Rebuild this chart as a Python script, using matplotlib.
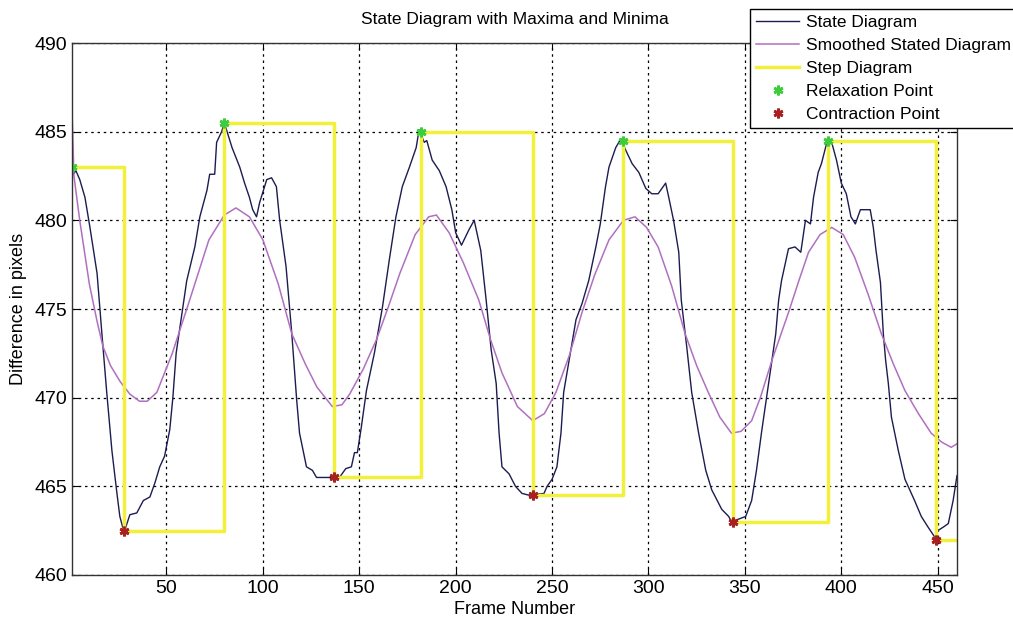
import matplotlib
matplotlib.use('Agg')
import matplotlib.pyplot as plt

plt.rcParams['font.family'] = ['Liberation Sans', 'DejaVu Sans']

# raw state diagram (frame, difference)
state_x = [1, 3, 5, 7.7, 10.3, 14, 16.5, 19, 21.7, 24.3, 25.8, 28, 31, 34.6, 38, 41.4, 44, 46.5, 49,
           51.7, 53.3, 55, 57, 60.5, 64.7, 67.3, 71, 72.4, 75, 76, 78.6, 80, 84, 88, 90.5, 93, 94.7,
           96.7, 98.3, 102, 104.5, 107, 108.7, 112, 115, 117.5, 119, 122.6, 125.7, 127.8, 136, 139.7,
           143, 145.9, 147.5, 149, 151, 153.7, 157.8, 162, 165.6, 169, 172.3, 176, 179.5, 181, 183.7,
           185, 187.8, 191.5, 195, 198, 200, 203, 207, 209.6, 213, 215.8, 218.4, 221, 222.5, 224,
           227.7, 231, 234.4, 238, 245.8, 247.4, 250, 252.5, 254.6, 256, 258.8, 262.4, 265.5, 269,
           272.7, 275, 277.7, 279.5, 283, 285.7, 288, 291.5, 295, 298.6, 301.7, 305, 308.9, 310.5,
           313, 315.7, 317, 319.8, 322.4, 326, 329.7, 332.8, 338, 341.6, 343, 350.4, 353.5, 356,
           358.7, 362.3, 366, 367.5, 369, 372.6, 376, 379, 381.4, 384, 385.6, 388, 389.7, 391.8,
           393, 395, 397.5, 400, 402.6, 405, 407.3, 409.9, 415, 416.6, 418, 420.3, 421.8, 423,
           424.4, 426, 429.6, 433, 436.3, 438, 441.5, 445, 448.7, 450, 452.9, 455.5, 458, 460]
state_y = [482.5, 482.8, 482.3, 481.3, 479.6, 477, 473.6, 470.3, 467, 464.6, 463.3, 462.4, 463.4, 463.5,
           464.2, 464.4, 465.2, 466.1, 466.7, 468.2, 470, 472.5, 474, 476.6, 478.5, 480.2, 481.7,
           482.6, 482.6, 484.4, 485, 485.5, 484.1, 483.0, 482.1, 481.3, 480.6, 480.2, 481, 482.3,
           482.4, 481.9, 480, 477.4, 473.6, 469.9, 468, 466.1, 465.9, 465.5, 465.5, 465.5, 466,
           466.1, 466.9, 466.9, 468.3, 470.4, 472.5, 475.1, 477.8, 480.2, 481.9, 483, 484.1, 485.1,
           484.4, 484.5, 483.4, 482.8, 481.9, 480.6, 479.3, 478.6, 479.5, 480, 478.3, 475.5, 472.7,
           470.8, 468, 466.1, 465.7, 465, 464.6, 464.5, 464.6, 465, 465.4, 466.1, 468, 470.3, 472.1,
           474.4, 475.3, 476.6, 478.5, 479.8, 481.9, 483, 484.1, 484.6, 484, 483.2, 482.7, 481.8,
           481.5, 481.5, 482.1, 481.3, 480, 478.2, 475.5, 472.9, 470.3, 468, 465.9, 464.8, 463.7,
           463.3, 463, 463.3, 464.2, 465.9, 468.1, 470.8, 473.6, 475.5, 476.6, 478.4, 478.5, 478.2,
           480, 479.8, 481.3, 482.7, 483.2, 484.1, 484.6, 484.4, 483.4, 482.1, 481.5, 480.2, 479.8,
           480.6, 480.6, 479.6, 478.3, 476.5, 473.6, 472.1, 470.8, 468.9, 467, 465.4, 464.6, 464.2,
           463.3, 462.7, 462.1, 462.5, 462.7, 462.9, 464.2, 465.6]

# smoothed curve
smooth_x = [1, 2, 5, 10, 14, 17, 21, 26, 31, 36, 40, 45, 53, 62, 72, 80, 86, 93, 100, 108, 115, 122,
            128, 136, 141, 145, 152, 159, 165, 171, 179, 186, 190, 196.6, 204, 212, 218, 224, 232,
            240, 246, 252, 259, 265.5, 272, 279.5, 287, 293, 299, 305, 312, 319, 325, 331, 337, 343,
            348, 353.5, 358, 364, 372.6, 378, 383, 389, 395, 401, 407, 414, 420.8, 427, 433, 440,
            446.6, 452, 457, 460]
smooth_y = [486.2, 482.5, 480.0, 476.4, 474.3, 472.9, 471.8, 470.9, 470.2, 469.8, 469.8, 470.3,
            472.5, 475.5, 478.9, 480.3, 480.7, 480.2, 478.9, 476.4, 473.6, 471.9, 470.6, 469.5,
            469.6, 470.2, 471.6, 473.3, 475.1, 477.0, 479.2, 480.2, 480.3, 479.3, 477.6, 475.5,
            473.3, 471.4, 469.5, 468.7, 469.1, 470.3, 472.4, 474.8, 476.9, 478.9, 480.0, 480.2,
            479.6, 478.5, 476.3, 473.6, 471.8, 470.3, 468.9, 468.0, 468.1, 468.7, 470.0, 472.1,
            474.8, 476.6, 478.2, 479.2, 479.6, 479.2, 477.9, 475.8, 473.6, 471.9, 470.4, 469.1,
            468.0, 467.5, 467.2, 467.4]

# step diagram
step_x = [1, 28, 80, 137, 182, 240, 287, 344, 393, 449, 460]
step_y = [483, 462.5, 485.5, 465.5, 485, 464.5, 484.5, 463, 484.5, 462, 462]

# maxima / minima
relax_x = [1, 80, 182, 287, 393]
relax_y = [483, 485.5, 485, 484.5, 484.5]
contr_x = [28, 137, 240, 344, 449]
contr_y = [462.5, 465.5, 464.5, 463, 462]

fig = plt.figure(figsize=(10.13, 6.19), dpi=100)
ax = fig.add_axes([0.0711, 0.0711, 0.8736, 0.8594])

ax.plot(state_x, state_y, color='#1c1c50', lw=1.0, label='State Diagram')
ax.plot(smooth_x, smooth_y, color='#b070c0', lw=1.1, label='Smoothed Stated Diagram')
ax.plot(step_x, step_y, color='#f2f03a', lw=2.5, drawstyle='steps-post', label='Step Diagram')
ax.plot(relax_x, relax_y, linestyle='None', marker=(6, 2, 0), ms=7, mew=2,
        color='#3ccc3c', label='Relaxation Point')
ax.plot(contr_x, contr_y, linestyle='None', marker=(6, 2, 0), ms=7, mew=2,
        color='#a82020', label='Contraction Point')

ax.set_xlim(1, 460)
ax.set_ylim(460, 490)
ax.set_xticks(range(50, 451, 50))
ax.set_yticks(range(460, 491, 5))
ax.grid(True, color='black', linestyle=(0, (2, 3)), lw=0.9)
ax.tick_params(direction='in', top=True, right=True, labelsize=14, length=5)
for s in ax.spines.values():
    s.set_color('#333333')
    s.set_linewidth(1.0)

ax.set_title('State Diagram with Maxima and Minima', fontsize=12.5, pad=14)
ax.set_xlabel('Frame Number', fontsize=13, labelpad=3)
ax.set_ylabel('Difference in pixels', fontsize=13, labelpad=5)

leg = ax.legend(loc='upper left', bbox_to_anchor=(750 / 1013, 1 - 9 / 619),
                bbox_transform=fig.transFigure, fontsize=12.5, frameon=True,
                fancybox=False, framealpha=1, edgecolor='black', borderaxespad=0,
                labelspacing=0.45, handlelength=2.5, handletextpad=0.4, borderpad=0.35)
leg.get_frame().set_linewidth(1.0)

plt.savefig('out.png', dpi=100)
